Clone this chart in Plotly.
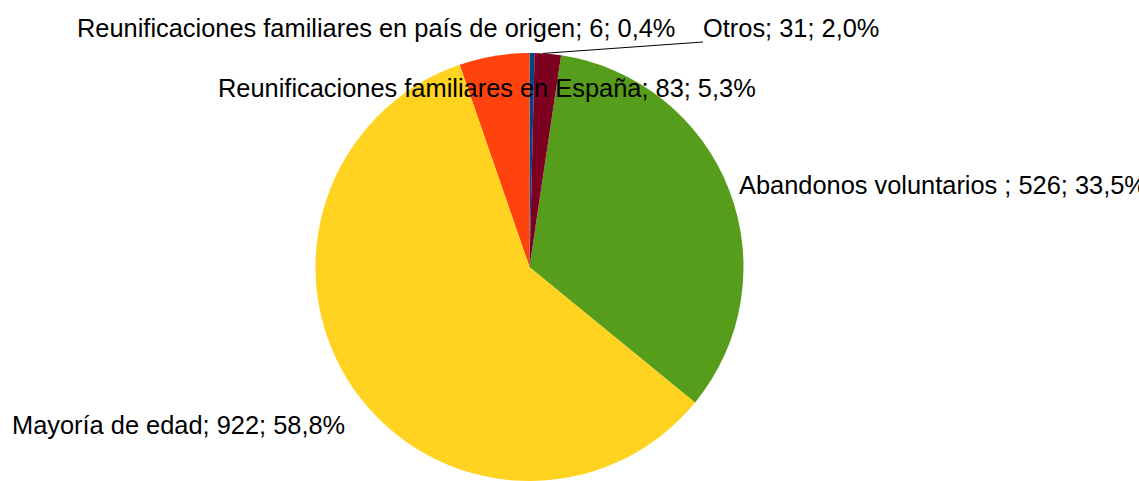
import math
import plotly.graph_objects as go

# ---- data ----
labels = [
    "Reunificaciones familiares en país de origen",
    "Reunificaciones familiares en España",
    "Mayoría de edad",
    "Abandonos voluntarios ",
    "Otros",
]
values = [6, 83, 922, 526, 31]
percents = ["0,4%", "5,3%", "58,8%", "33,5%", "2,0%"]
colors = ["#004586", "#ff420e", "#ffd320", "#579d1c", "#7e0021"]

# ---- layout ----
W, H = 1139, 481
FONT = "Liberation Sans, Arial, sans-serif"
FS = 25.4
# label anchor positions (pixels from top-left, left edge / vertical middle)
label_pos = [(75, 28), (216, 88), (10, 425), (737, 185), (701, 28)]
line_end_px = (703, 42)

cx_px, cy_top_px = 529.5, 267.0
r_px = 214.0
dom_x = [(cx_px - r_px) / W, (cx_px + r_px) / W]
dom_y = [0.0, 2 * r_px / H]

fig = go.Figure(
    go.Pie(
        labels=labels,
        values=values,
        marker=dict(colors=colors, line=dict(width=0)),
        sort=False,
        direction="counterclockwise",
        rotation=0,
        textinfo="none",
        hoverinfo="label+value+percent",
        showlegend=False,
        domain=dict(x=dom_x, y=dom_y),
    )
)

for lab, val, pct, (px, py) in zip(labels, values, percents, label_pos):
    fig.add_annotation(
        x=px / W, y=1 - py / H, xref="paper", yref="paper",
        xanchor="left", yanchor="middle",
        text=f"{lab}; {val}; {pct}",
        showarrow=False,
        font=dict(family=FONT, size=FS, color="#000000"),
    )

# leader line for "Otros" from slice mid-angle on the pie edge
total = sum(values)
cum = sum(values[:4]) + values[4] / 2
theta = 2 * math.pi * cum / total  # counterclockwise from 12 o'clock
sx = cx_px - r_px * math.sin(theta)
sy = cy_top_px - r_px * math.cos(theta)
fig.add_shape(
    type="line", xref="paper", yref="paper",
    x0=sx / W, y0=1 - sy / H, x1=line_end_px[0] / W, y1=1 - line_end_px[1] / H,
    line=dict(color="#000000", width=1),
)

fig.update_layout(
    width=W, height=H,
    margin=dict(l=0, r=0, t=0, b=0),
    paper_bgcolor="#ffffff",
    plot_bgcolor="#ffffff",
    font=dict(family=FONT, size=FS, color="#000000"),
)

fig.write_html(
    "out.html",
    config={"displayModeBar": False},
    post_script="document.body.style.margin='0';document.body.style.overflow='hidden';",
)
